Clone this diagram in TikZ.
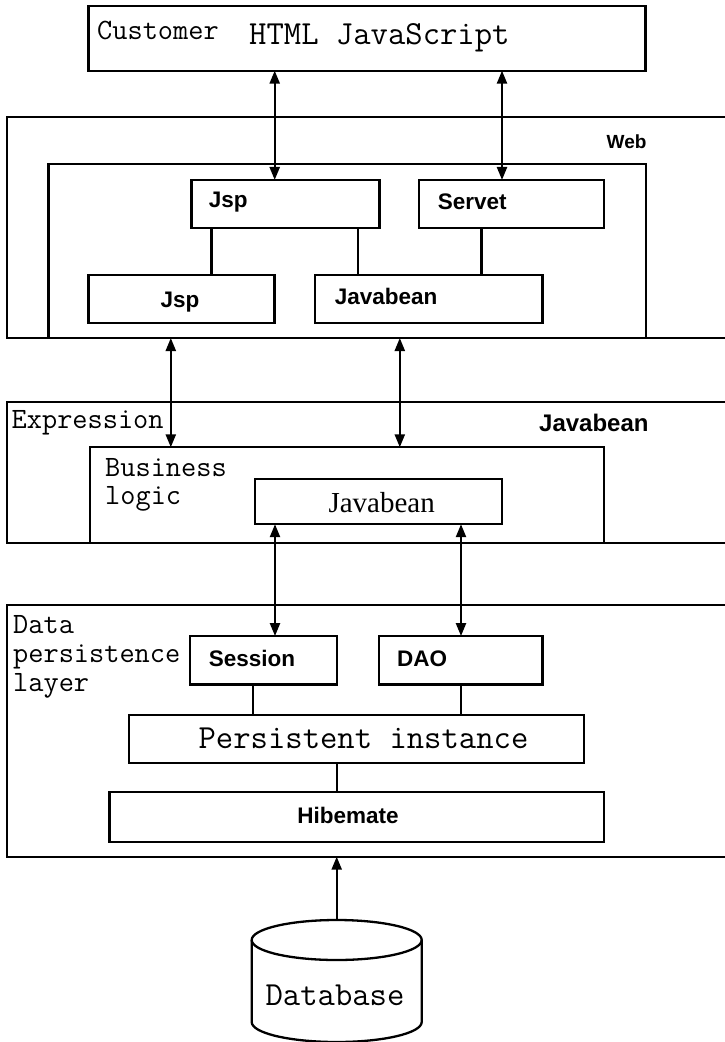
\documentclass[tikz,border=0pt]{standalone}
\usepackage{fontspec}
\setmainfont{Liberation Serif}
\setsansfont{Liberation Sans}
\usetikzlibrary{arrows.meta}
\begin{document}
\begin{tikzpicture}[x=1pt,y=-1pt,
  box/.style={draw, line width=2.3pt, inner sep=0pt, outer sep=0pt},
  mono/.style={font=\ttfamily\fontsize{29.5}{30}\selectfont, inner sep=0pt, anchor=west},
  monoblock/.style={inner sep=0pt, anchor=west, align=left},
  bigmono/.style={font=\ttfamily\fontsize{33.7}{34}\selectfont, inner sep=0pt},
  sb/.style={font=\sffamily\bfseries\fontsize{22.5}{23}\selectfont, inner sep=0pt},
  link/.style={line width=2.3pt},
  biarrow/.style={line width=2.3pt, {Triangle[length=13pt,width=10pt]}-{Triangle[length=13pt,width=10pt]}},
  uparrow/.style={line width=2.3pt, -{Triangle[length=13pt,width=10pt]}},
]
\useasboundingbox (0,0) rectangle (724,1042);
\fill[white] (0,0) rectangle (724,1042);

% Customer
\node[box, minimum width=556.8pt, minimum height=64.7pt] (cust) at (367,38.3) {};
\node[mono] (custlbl) at (97,30) {Customer};
\node[bigmono, anchor=west] (custtxt) at (249,38) {HTML JavaScript};

% Web layer
\node[box, minimum width=733pt, minimum height=221.3pt] (webout) at (373.5,227.35) {};
\node[box, minimum width=597.5pt, minimum height=174pt] (webin) at (347.25,251) {};
\node[font=\sffamily\bfseries\fontsize{19}{20}\selectfont, inner sep=0pt, anchor=west] (weblbl) at (606.5,141.7) {Web};

\node[box, minimum width=188pt, minimum height=47.7pt] (jspa) at (285.5,203.8) {};
\node[sb, anchor=west] (jspatxt) at (208.7,202) {Jsp};
\node[box, minimum width=185pt, minimum height=47.7pt] (servet) at (511.5,203.8) {};
\node[sb, anchor=west] (servettxt) at (437.7,201.7) {Servet};
\node[box, minimum width=186pt, minimum height=47.7pt] (jspb) at (181.6,298.8) {};
\node[sb] (jspbtxt) at (180,301.7) {Jsp};
\node[box, minimum width=227.2pt, minimum height=47.7pt] (jbweb) at (428.9,298.8) {};
\node[sb, anchor=west] (jbwebtxt) at (334.7,296) {Javabean};

\coordinate (xa) at (211.5,0);
\coordinate (xb) at (358.3,0);
\coordinate (xc) at (481.5,0);
\draw[link] (jspa.south -| xa) -- (jspb.north -| xa);
\draw[link] (jspa.south -| xb) -- (jbweb.north -| xb);
\draw[link] (servet.south -| xc) -- (jbweb.north -| xc);

\coordinate (xd) at (274.7,0);
\coordinate (xe) at (502,0);
\draw[biarrow] (cust.south -| xd) -- (jspa.north -| xd);
\draw[biarrow] (cust.south -| xe) -- (servet.north -| xe);

% Expression layer
\node[box, minimum width=733pt, minimum height=141pt] (expout) at (373.5,472.2) {};
\node[mono] (explbl) at (11.5,423) {Expression};
\node[font=\sffamily\bfseries\fontsize{24}{25}\selectfont, inner sep=0pt, anchor=west] (jblbl) at (539,423) {Javabean};
\node[box, minimum width=514pt, minimum height=95.4pt] (biz) at (347,495) {};
\node[monoblock, font=\ttfamily\fontsize{29.5}{28}\selectfont] (bizlbl) at (105,484.5) {Business\\logic};
\node[box, minimum width=246.7pt, minimum height=45pt] (jbbiz) at (378.3,501.7) {};
\node[font=\rmfamily\fontsize{29}{30}\selectfont, inner sep=0pt] (jbbiztxt) at (381.7,503) {Javabean};

\coordinate (xf) at (170.8,0);
\coordinate (xg) at (399.8,0);
\draw[biarrow] (webout.south -| xf) -- (biz.north -| xf);
\draw[biarrow] (webout.south -| xg) -- (biz.north -| xg);

% Data persistence layer
\node[box, minimum width=733pt, minimum height=251.7pt] (dataout) at (373.5,730.85) {};
\node[monoblock, font=\ttfamily\fontsize{29.5}{29.2}\selectfont] (datalbl) at (13,657) {Data\\persistence\\layer};

\node[box, minimum width=147pt, minimum height=48.3pt] (session) at (263.5,660.2) {};
\node[sb, anchor=west] (sessiontxt) at (208.7,658.3) {Session};
\node[box, minimum width=163.9pt, minimum height=48.3pt] (dao) at (460.6,660.2) {};
\node[sb, anchor=west] (daotxt) at (397,658.3) {DAO};
\node[box, minimum width=455pt, minimum height=47.7pt] (pi) at (356.5,738.8) {};
\node[bigmono] (pitxt) at (363.5,738.3) {Persistent instance};
\node[box, minimum width=494.6pt, minimum height=50pt] (hib) at (356.7,816.7) {};
\node[sb] (hibtxt) at (348,815) {Hibemate};

\coordinate (xh) at (275,0);
\coordinate (xi) at (461,0);
\draw[biarrow] (jbbiz.south -| xh) -- (session.north -| xh);
\draw[biarrow] (jbbiz.south -| xi) -- (dao.north -| xi);

\coordinate (xj) at (253,0);
\coordinate (xk) at (460.8,0);
\coordinate (xl) at (337,0);
\draw[link] (session.south -| xj) -- (pi.north -| xj);
\draw[link] (dao.south -| xk) -- (pi.north -| xk);
\draw[link] (pi.south -| xl) -- (hib.north -| xl);

% Database
\coordinate (dbtop) at (336.7,920);
\draw[line width=2.3pt] (336.7,940) ellipse [x radius=85, y radius=20];
\draw[line width=2.3pt] (251.7,940) -- (251.7,1022) arc[start angle=180, end angle=0, x radius=85, y radius=20] -- (421.7,940);
\node[bigmono] (dbtxt) at (335,995) {Database};
\draw[uparrow] (dbtop) -- (dataout.south -| dbtop);
\end{tikzpicture}
\end{document}
